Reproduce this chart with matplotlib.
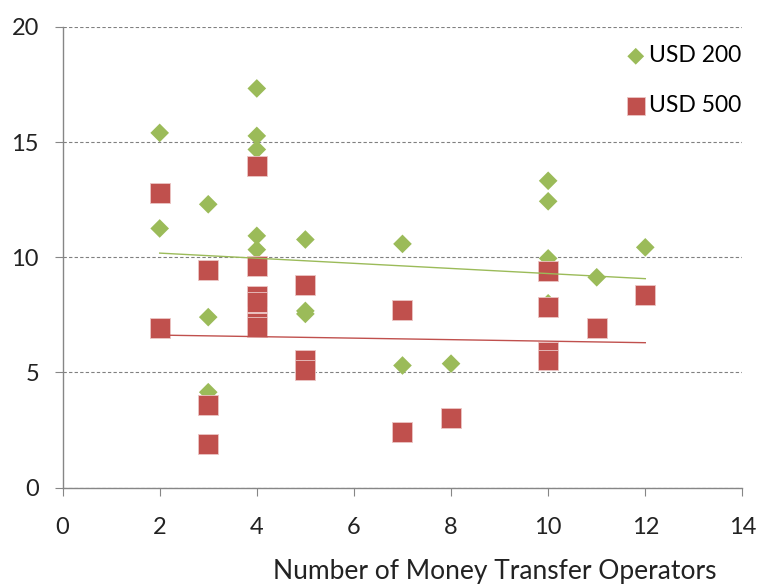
import matplotlib.pyplot as plt
import matplotlib as mpl

mpl.rcParams['font.family'] = ['Lato', 'DejaVu Sans']

# USD 200 series
x_200 = [2, 2, 3, 3, 3, 4, 4, 4, 4, 4, 5, 5, 5, 7, 7, 8, 10, 10, 10, 10, 11, 12]
y_200 = [15.4, 11.25, 12.3, 7.4, 4.14, 17.33, 15.27, 14.68, 10.93, 10.33,
         10.77, 7.67, 7.54, 10.58, 5.3, 5.38, 13.32, 12.43, 9.95, 8.0, 9.13, 10.43]

# USD 500 series
x_500 = [2, 2, 3, 3, 3, 4, 4, 4, 4, 4, 4, 5, 5, 5, 7, 7, 8, 10, 10, 10, 10, 11, 12]
y_500 = [12.8, 6.93, 9.43, 3.57, 1.9, 13.96, 9.63, 8.32, 8.04, 7.14, 6.97,
         8.78, 5.55, 5.1, 7.7, 2.43, 3.01, 9.41, 7.84, 5.88, 5.55, 6.93, 8.35]

# linear trend lines (end points)
trend_x = [2, 12]
trend_200 = [10.18, 9.07]
trend_500 = [6.62, 6.29]

green = '#9BBB59'
red = '#C0504D'
axis_grey = '#868686'

fig = plt.figure(figsize=(7.63, 5.86), dpi=100)
ax = fig.add_axes([0.082, 0.168, 0.891, 0.786])

ax.scatter(x_200, y_200, marker='D', s=9.5**2, color=green, edgecolors='none',
           label='USD 200', zorder=3)
ax.scatter(x_500, y_500, marker='s', s=14.2**2, color=red, edgecolors='#EBC6C5',
           linewidths=0.6, label='USD 500', zorder=4)

ax.plot(trend_x, trend_200, color=green, lw=1.0, zorder=5)
ax.plot(trend_x, trend_500, color=red, lw=1.0, zorder=5)

ax.set_xlim(0, 14)
ax.set_ylim(0, 20)
ax.set_xticks(range(0, 15, 2))
ax.set_yticks(range(0, 21, 5))

ax.grid(axis='y', linestyle=(0, (3, 2)), color='#808080', lw=0.8)
ax.set_axisbelow(True)

for side in ['top', 'right']:
    ax.spines[side].set_visible(False)
for side in ['left', 'bottom']:
    ax.spines[side].set_color(axis_grey)
    ax.spines[side].set_linewidth(1.0)

ax.tick_params(axis='both', colors=axis_grey, labelcolor='#222222',
               labelsize=17, length=6, direction='out')
ax.tick_params(axis='x', pad=15)
ax.tick_params(axis='y', pad=11)

fig.text(0.649, 0.024, 'Number of Money Transfer Operators', fontsize=19,
         color='#222222', ha='center', va='center')

ax.legend(loc='upper right', bbox_to_anchor=(1.026, 1.0), frameon=False,
          fontsize=16.5, labelspacing=1.25, handlelength=0.8, handletextpad=0.2,
          markerscale=0.9, borderaxespad=0.4)

fig.savefig('out.png', dpi=100)
